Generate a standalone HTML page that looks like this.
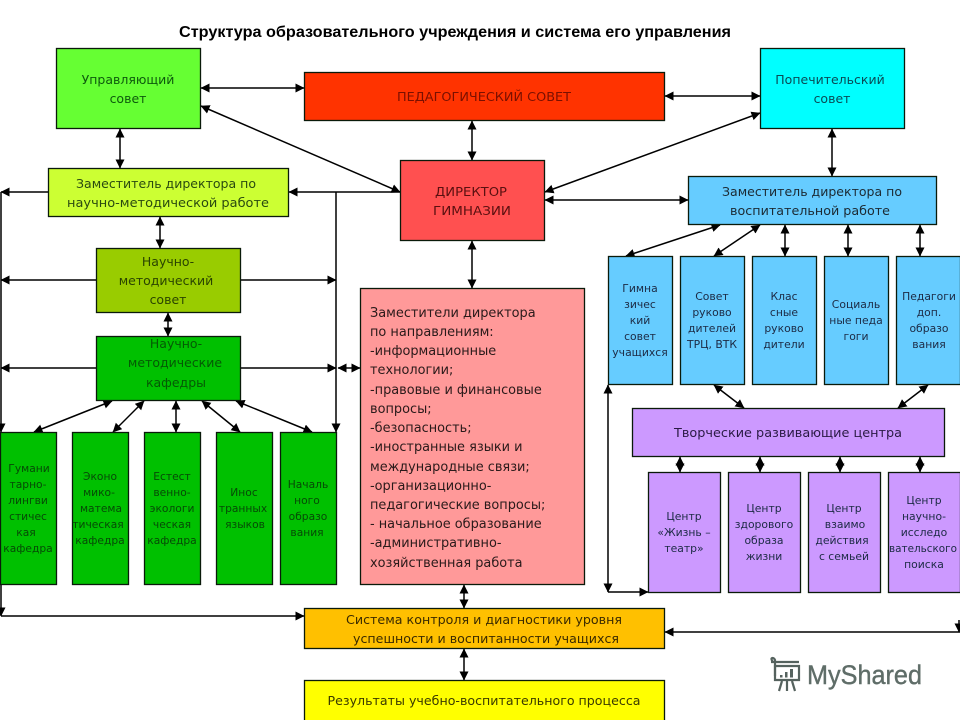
<!DOCTYPE html>
<html lang="ru"><head><meta charset="utf-8"><title>Структура образовательного учреждения</title>
<style>
html,body{margin:0;padding:0;background:#fff;width:960px;height:720px;overflow:hidden}
svg{display:block}
text{font-family:"DejaVu Sans",sans-serif;font-size:12.5px;fill:#1c2a33;text-anchor:middle}
.b rect{stroke:#0a1a0a;stroke-width:1.3}
.g text{font-size:10.7px;fill:#064a06}
.m text{font-size:10.8px;fill:#1c2a44}
.c line,.c polyline{stroke:#000;stroke-width:1.5;fill:none}
.d line{marker-start:url(#a);marker-end:url(#a)}
.e line,.e polyline{marker-end:url(#a)}
.p text{text-anchor:start;font-size:12.9px;fill:#2a1a1a}
</style></head><body>
<svg width="960" height="720" viewBox="0 0 960 720" xmlns="http://www.w3.org/2000/svg">
<defs><marker id="a" markerUnits="userSpaceOnUse" markerWidth="10" markerHeight="10" refX="8.500" refY="4.500" orient="auto-start-reverse"><path d="M0 0L9 4.500L0 9Z" fill="#000"/></marker></defs>
<rect width="960" height="720" fill="#fff"/>
<text x="455" y="37" textLength="552" lengthAdjust="spacingAndGlyphs" style="font-family:'Liberation Sans',sans-serif;font-weight:700;font-size:16px;fill:#000">Структура образовательного учреждения и система его управления</text>

<g class="c">
<g class="d">
<line x1="120" y1="129" x2="120" y2="168"/>
<line x1="201" y1="88" x2="304" y2="88"/>
<line x1="665" y1="96" x2="760" y2="96"/>
<line x1="472" y1="121" x2="472" y2="160"/>
<line x1="472" y1="241" x2="472" y2="288"/>
<line x1="832" y1="129" x2="832" y2="176"/>
<line x1="201" y1="106" x2="400" y2="192"/>
<line x1="545" y1="192" x2="760" y2="113"/>
<line x1="545" y1="200" x2="688" y2="200"/>
<line x1="160" y1="217" x2="160" y2="248"/>
<line x1="168" y1="313" x2="168" y2="336"/>
<line x1="338" y1="368" x2="360" y2="368"/>
<line x1="112" y1="401" x2="34" y2="432"/>
<line x1="144" y1="401" x2="113" y2="432"/>
<line x1="176" y1="401" x2="176" y2="432"/>
<line x1="202" y1="401" x2="240" y2="432"/>
<line x1="236" y1="401" x2="312" y2="432"/>
<line x1="720" y1="225" x2="626" y2="256"/>
<line x1="760" y1="225" x2="714" y2="256"/>
<line x1="785" y1="225" x2="785" y2="256"/>
<line x1="848" y1="225" x2="848" y2="256"/>
<line x1="920" y1="225" x2="920" y2="256"/>
<line x1="714" y1="385" x2="744" y2="408"/>
<line x1="928" y1="385" x2="898" y2="408"/>
<line x1="680" y1="457" x2="680" y2="472"/>
<line x1="760" y1="457" x2="760" y2="472"/>
<line x1="840" y1="457" x2="840" y2="472"/>
<line x1="920" y1="457" x2="920" y2="472"/>
<line x1="464" y1="585" x2="464" y2="608"/>
<line x1="464" y1="649" x2="464" y2="680"/>
<line x1="608" y1="385" x2="608" y2="592"/>
</g>
<g class="e">
<line x1="400" y1="192" x2="289" y2="192"/>
<line x1="336" y1="192" x2="336" y2="432"/>
<line x1="48" y1="192" x2="1" y2="192"/>
<line x1="96" y1="280" x2="1" y2="280"/>
<line x1="96" y1="368" x2="1" y2="368"/>
<line x1="241" y1="280" x2="336" y2="280"/>
<line x1="241" y1="368" x2="336" y2="368"/>
<line x1="1" y1="192" x2="1" y2="432"/>
<line x1="1" y1="584" x2="1" y2="616"/>
<line x1="1" y1="616" x2="304" y2="616"/>
<line x1="608" y1="592" x2="648" y2="592"/>
<line x1="960" y1="632" x2="665" y2="632"/>
<line x1="959" y1="620" x2="959" y2="632"/>
</g>
</g>

<g class="b">
<rect x="56.5" y="48.5" width="144" height="80" fill="#66ff33"/>
<rect x="304.5" y="72.5" width="360" height="48" fill="#ff3300"/>
<rect x="760.5" y="48.5" width="144" height="80" fill="#00ffff"/>
<rect x="400.5" y="160.5" width="144" height="80" fill="#ff5050"/>
<rect x="48.5" y="168.5" width="240" height="48" fill="#ccff33"/>
<rect x="96.5" y="248.5" width="144" height="64" fill="#99cc00"/>
<rect x="96.5" y="336.5" width="144" height="64" fill="#00c000"/>
<rect x="360.5" y="288.5" width="224" height="296" fill="#ff9999"/>
<rect x="688.5" y="176.5" width="248" height="48" fill="#66ccff"/>
<rect x="0.5" y="432.5" width="56" height="152" fill="#00c000"/>
<rect x="72.5" y="432.5" width="56" height="152" fill="#00c000"/>
<rect x="144.5" y="432.5" width="56" height="152" fill="#00c000"/>
<rect x="216.5" y="432.5" width="56" height="152" fill="#00c000"/>
<rect x="280.5" y="432.5" width="56" height="152" fill="#00c000"/>
<rect x="608.5" y="256.5" width="64" height="128" fill="#66ccff"/>
<rect x="680.5" y="256.5" width="64" height="128" fill="#66ccff"/>
<rect x="752.5" y="256.5" width="64" height="128" fill="#66ccff"/>
<rect x="824.5" y="256.5" width="64" height="128" fill="#66ccff"/>
<rect x="896.5" y="256.5" width="64" height="128" fill="#66ccff"/>
<rect x="632.5" y="408.5" width="312" height="48" fill="#cc99ff"/>
<rect x="648.5" y="472.5" width="72" height="120" fill="#cc99ff"/>
<rect x="728.5" y="472.5" width="72" height="120" fill="#cc99ff"/>
<rect x="808.5" y="472.5" width="72" height="120" fill="#cc99ff"/>
<rect x="888.5" y="472.5" width="72" height="120" fill="#cc99ff"/>
<rect x="304.5" y="608.5" width="360" height="40" fill="#ffc000"/>
<rect x="304.5" y="680.5" width="360" height="42" fill="#ffff00"/>
</g>

<g>
<text x="128" y="84" style="fill:#0d5a0d">Управляющий</text>
<text x="128" y="103" style="fill:#0d5a0d">совет</text>
<text x="484" y="101" textLength="174" lengthAdjust="spacingAndGlyphs" style="fill:#7a1000">ПЕДАГОГИЧЕСКИЙ СОВЕТ</text>
<text x="830" y="84" style="fill:#0a4a55">Попечительский</text>
<text x="832" y="103" style="fill:#0a4a55">совет</text>
<text x="471" y="196" textLength="72" lengthAdjust="spacingAndGlyphs" style="fill:#5a1010">ДИРЕКТОР</text>
<text x="472" y="215" textLength="78" lengthAdjust="spacingAndGlyphs" style="fill:#5a1010">ГИМНАЗИИ</text>
<text x="166" y="188" textLength="180" lengthAdjust="spacingAndGlyphs" style="fill:#2a4a10">Заместитель директора по</text>
<text x="168" y="207" textLength="202" lengthAdjust="spacingAndGlyphs" style="fill:#2a4a10">научно-методической работе</text>
<text x="168" y="266" style="fill:#2a4400">Научно-</text>
<text x="166" y="285" style="fill:#2a4400">методический</text>
<text x="168" y="304" style="fill:#2a4400">совет</text>
<text x="176" y="348" style="fill:#045a04">Научно-</text>
<text x="175" y="367" style="fill:#045a04">методические</text>
<text x="176" y="387" style="fill:#045a04">кафедры</text>
</g>

<g class="g">
<text x="29" y="472">Гумани</text><text x="28" y="488">тарно-</text><text x="28" y="504">лингви</text><text x="28" y="520">стичес</text><text x="26" y="536">кая</text><text x="28" y="552">кафедра</text>
<text x="100" y="480">Эконо</text><text x="99" y="496">мико-</text><text x="101" y="512">матема</text><text x="98" y="528">тическая</text><text x="100" y="544">кафедра</text>
<text x="172" y="480">Естест</text><text x="172" y="496">венно-</text><text x="172" y="512">экологи</text><text x="172" y="528">ческая</text><text x="172" y="544">кафедра</text>
<text x="244" y="496">Инос</text><text x="243" y="512">транных</text><text x="245" y="528">языков</text>
<text x="308" y="488">Началь</text><text x="307" y="504">ного</text><text x="308" y="520">образо</text><text x="307" y="536">вания</text>
</g>

<g class="p">
<text x="370" y="317">Заместители директора</text>
<text x="370" y="336">по направлениям:</text>
<text x="370" y="355">-информационные</text>
<text x="370" y="374">технологии;</text>
<text x="370" y="394">-правовые и финансовые</text>
<text x="370" y="413">вопросы;</text>
<text x="370" y="432">-безопасность;</text>
<text x="370" y="451">-иностранные языки и</text>
<text x="370" y="471">международные связи;</text>
<text x="370" y="490">-организационно-</text>
<text x="370" y="509">педагогические вопросы;</text>
<text x="370" y="528">- начальное образование</text>
<text x="370" y="547">-административно-</text>
<text x="370" y="567">хозяйственная работа</text>
</g>

<text x="812" y="196" textLength="180" lengthAdjust="spacingAndGlyphs">Заместитель директора по</text>
<text x="810" y="215" textLength="160" lengthAdjust="spacingAndGlyphs">воспитательной работе</text>

<g class="m">
<text x="640" y="292">Гимна</text><text x="640" y="308">зичес</text><text x="640" y="324">кий</text><text x="640" y="340">совет</text><text x="640" y="356">учащихся</text>
<text x="712" y="300">Совет</text><text x="712" y="316">руково</text><text x="712" y="332">дителей</text><text x="712" y="348">ТРЦ, ВТК</text>
<text x="784" y="300">Клас</text><text x="784" y="316">сные</text><text x="784" y="332">руково</text><text x="784" y="348">дители</text>
<text x="856" y="308">Социаль</text><text x="856" y="324">ные педа</text><text x="856" y="340">гоги</text>
<text x="929" y="300">Педагоги</text><text x="929" y="316">доп.</text><text x="929" y="332">образо</text><text x="929" y="348">вания</text>
<text x="684" y="520">Центр</text><text x="684" y="536">«Жизнь –</text><text x="684" y="552">театр»</text>
<text x="764" y="512">Центр</text><text x="764" y="528">здорового</text><text x="764" y="544">образа</text><text x="764" y="560">жизни</text>
<text x="844" y="512">Центр</text><text x="845" y="528">взаимо</text><text x="842" y="544">действия</text><text x="844" y="560">с семьей</text>
<text x="924" y="504">Центр</text><text x="924" y="520">научно-</text><text x="924" y="536">исследо</text><text x="923" y="552" textLength="68" lengthAdjust="spacingAndGlyphs">вательского</text><text x="924" y="568">поиска</text>
</g>

<text x="788" y="437" textLength="228" lengthAdjust="spacingAndGlyphs" style="fill:#2a1a44">Творческие развивающие центра</text>
<text x="484" y="624" textLength="276" lengthAdjust="spacingAndGlyphs" style="fill:#3a2a00">Система контроля и диагностики уровня</text>
<text x="486" y="643" textLength="266" lengthAdjust="spacingAndGlyphs" style="fill:#3a2a00">успешности и воспитанности учащихся</text>
<text x="484" y="705" textLength="313" lengthAdjust="spacingAndGlyphs" style="fill:#3a3a00">Результаты учебно-воспитательного процесса</text>

<g fill="none" stroke="#55625e" stroke-width="2.200">
<path d="M771 662h28M773 662c-4-5 1-5 2-2v16"/>
<path d="M775 666h24v14h-24z"/>
<path d="M782 681l-3 10M787 681v10M792 681l3 10"/>
</g>
<g fill="#55625e"><rect x="780" y="675" width="2.500" height="2.500"/><rect x="785" y="672" width="2.500" height="5.500"/><rect x="790" y="669" width="3" height="8.500"/></g>
<text x="807" y="684" textLength="115" lengthAdjust="spacingAndGlyphs" style="font-family:'Liberation Sans',sans-serif;font-size:27px;fill:#5f6d68;stroke:#5f6d68;stroke-width:.4;text-anchor:start">MyShared</text>
</svg>
</body></html>
